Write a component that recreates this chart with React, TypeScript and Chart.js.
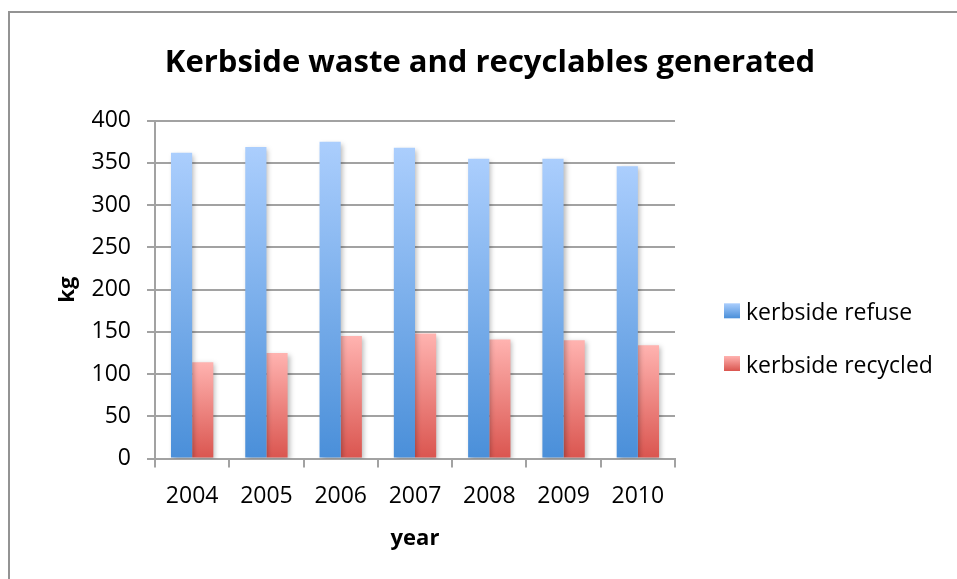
import React, { useEffect, useRef } from "react";
import { Chart, registerables } from "chart.js";

Chart.register(...registerables);

// Kerbside waste per year (kg)
const years = ["2004", "2005", "2006", "2007", "2008", "2009", "2010"];
const refuse = [362, 369, 375, 368, 355, 355, 346];
const recycled = [114, 125, 145, 148, 141, 140, 134];
const seriesNames = ["kerbside refuse", "kerbside recycled"];
const chartTitle = "Kerbside waste and recyclables generated";
const yTitle = "kg";
const xTitle = "year";
const yMin = 0;
const yMax = 400;
const yStep = 50;

// Gradient stops: [top, bottom]
const refuseShades = ["#abcefd", "#4a8fd9"];
const recycledShades = ["#ffb3b0", "#da554f"];

const FONT = "'Open Sans', sans-serif";
const GRID = "#a2a2a2";
const LABEL_SIZE = 23;

// Each bar gets its own vertical gradient from its top down to the baseline
const barFill = (shades: string[]) => (ctx: any) => {
  if (ctx.type !== "data") return shades[1];
  const chart = ctx.chart;
  const y = chart.scales && chart.scales.y;
  if (!y) return shades[1];
  const top = y.getPixelForValue(ctx.raw);
  const base = y.getPixelForValue(0);
  if (!isFinite(top) || !isFinite(base) || top === base) return shades[1];
  const g = chart.ctx.createLinearGradient(0, top, 0, base);
  g.addColorStop(0, shades[0]);
  g.addColorStop(1, shades[1]);
  return g;
};

// Soft drop shadow behind the bars
const barShadow = {
  id: "barShadow",
  beforeDatasetsDraw(chart: any) {
    const c = chart.ctx;
    c.save();
    c.shadowColor = "rgba(0,0,0,0.28)";
    c.shadowBlur = 5;
    c.shadowOffsetX = 2;
    c.shadowOffsetY = 2;
  },
  afterDatasetsDraw(chart: any) {
    chart.ctx.restore();
  },
};

// Legend to the right of the plot
const sideLegend = {
  id: "sideLegend",
  afterDraw(chart: any) {
    const c = chart.ctx;
    const x = chart.chartArea.right + 49;
    const firstY = 297.8;
    const rowGap = 52.7;
    const shades = [refuseShades, recycledShades];
    c.save();
    chart.data.datasets.forEach((ds: any, i: number) => {
      const cy = firstY + i * rowGap;
      const g = c.createLinearGradient(0, cy - 7.5, 0, cy + 7.5);
      g.addColorStop(0, shades[i][0]);
      g.addColorStop(1, shades[i][1]);
      c.fillStyle = g;
      c.fillRect(x, cy - 7.5, 16, 15);
      c.fillStyle = "#000";
      c.font = `${LABEL_SIZE}px ${FONT}`;
      c.textBaseline = "alphabetic";
      c.textAlign = "left";
      c.fillText(ds.label, x + 22, cy + 9.5);
    });
    c.restore();
  },
};

export default function App() {
  const ref = useRef<HTMLCanvasElement | null>(null);

  useEffect(() => {
    if (!ref.current) return;
    Chart.defaults.font.family = FONT;
    Chart.defaults.color = "#000";
    const chart = new Chart(ref.current, {
      type: "bar",
      data: {
        labels: years,
        datasets: [
          {
            label: seriesNames[0],
            data: refuse,
            yAxisID: "y",
            backgroundColor: barFill(refuseShades),
            borderWidth: 0,
          },
          {
            label: seriesNames[1],
            data: recycled,
            yAxisID: "y",
            backgroundColor: barFill(recycledShades),
            borderWidth: 0,
          },
        ],
      },
      options: {
        responsive: false,
        animation: false,
        events: [],
        layout: { padding: { left: 0, right: 0, top: 0, bottom: 27.5 } },
        datasets: {
          bar: { categoryPercentage: 0.57, barPercentage: 1 },
        },
        plugins: {
          legend: { display: false },
          tooltip: { enabled: false },
          title: {
            display: true,
            text: chartTitle,
            font: { family: FONT, size: 31, weight: "bold" },
            color: "#000",
            padding: { top: 31.5, bottom: 39 },
          },
        },
        scales: {
          x: {
            grid: {
              display: true,
              drawOnChartArea: false,
              drawTicks: true,
              tickLength: 9,
              color: GRID,
              lineWidth: 2,
            },
            border: { display: true, color: GRID, width: 2 },
            ticks: { font: { family: FONT, size: LABEL_SIZE }, color: "#000", padding: 15 },
            title: {
              display: true,
              text: xTitle,
              font: { family: FONT, size: 22, weight: "bold" },
              color: "#000",
              padding: { top: 0, bottom: 0 },
            },
          },
          y: {
            min: yMin,
            max: yMax,
            afterFit: (scale: any) => {
              scale.width = 145;
            },
            grid: {
              color: GRID,
              lineWidth: 2,
              tickLength: 8,
              drawTicks: true,
            },
            border: { display: true, color: GRID, width: 2 },
            ticks: {
              stepSize: yStep,
              font: { family: FONT, size: LABEL_SIZE },
              color: "#000",
              padding: 16,
            },
            title: {
              display: true,
              text: yTitle,
              font: { family: FONT, size: 22, weight: "bold" },
              color: "#000",
              padding: { top: 45, bottom: 0 },
            },
          },
          // Empty right-hand strip that leaves room for the legend
          legendSpace: {
            type: "linear",
            position: "right",
            display: true,
            afterFit: (scale: any) => {
              scale.width = 295;
            },
            grid: { display: false, drawTicks: false },
            border: { display: false },
            ticks: { display: false },
          },
        },
      },
      plugins: [barShadow, sideLegend],
    });
    return () => chart.destroy();
  }, []);

  return (
    <div
      style={{
        position: "fixed",
        left: 0,
        top: 0,
        width: 957,
        height: 579,
        overflow: "hidden",
        background: "#fff",
      }}
    >
      <div
        style={{
          position: "absolute",
          left: 8,
          top: 11,
          width: 1000,
          height: 620,
          borderLeft: "2px solid #939393",
          borderTop: "2px solid #939393",
          overflow: "hidden",
        }}
      >
        <canvas ref={ref} width={960} height={566} style={{ display: "block" }} />
      </div>
    </div>
  );
}
